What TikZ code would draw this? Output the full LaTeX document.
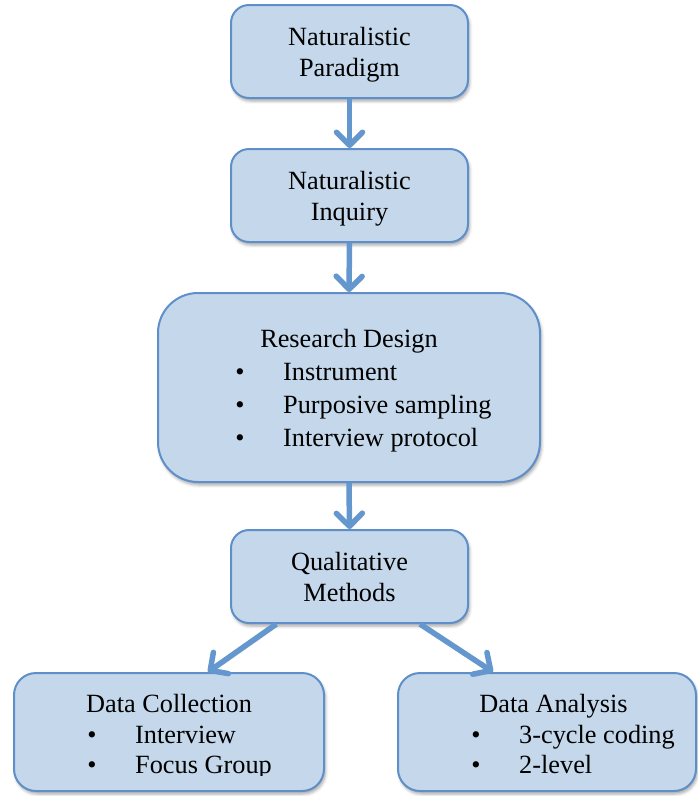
\documentclass[tikz,border=0pt]{standalone}
\usepackage{fontspec}
\setmainfont{Liberation Serif}
\usetikzlibrary{arrows.meta,shadows.blur}

\definecolor{boxfill}{RGB}{197,216,235}
\definecolor{boxline}{RGB}{94,143,200}
\definecolor{arrowblue}{RGB}{100,151,206}

\tikzset{
  stepbox/.style={
    rectangle, draw=boxline, fill=boxfill, line width=2pt,
    blur shadow={shadow xshift=1.5pt, shadow yshift=-3pt,
                 shadow blur radius=3pt, shadow opacity=35}
  },
  txt/.style={anchor=base, inner sep=0pt,
    font=\fontsize{26.3}{31}\selectfont},
  itemtxt/.style={txt, anchor=base west},
  flow/.style={draw=arrowblue, line width=5.5pt,
    -{Straight Barb[length=13pt, width=26pt, line cap=round, line join=round]},
    preaction={draw=black, draw opacity=0.12,
      transform canvas={shift={(1.5pt,-2.5pt)}}}}
}

\begin{document}
\begin{tikzpicture}[x=1pt, y=-1pt]
\useasboundingbox (0,0) rectangle (698,796);

% boxes
\node[stepbox, rounded corners=18pt, minimum width=237pt, minimum height=93pt]
  (para) at (349.5,51.5) {};
\node[stepbox, rounded corners=18pt, minimum width=237pt, minimum height=93pt]
  (inq) at (349.5,195.5) {};
\node[stepbox, rounded corners=40pt, minimum width=382pt, minimum height=189pt]
  (des) at (349,387.5) {};
\node[stepbox, rounded corners=18pt, minimum width=237pt, minimum height=93pt]
  (qual) at (349.5,576.5) {};
\node[stepbox, rounded corners=22pt, minimum width=310pt, minimum height=118pt]
  (coll) at (169,732) {};
\node[stepbox, rounded corners=22pt, minimum width=298pt, minimum height=118pt]
  (anal) at (547,732) {};

% box texts
\node[txt] (para1) at (349.5,45) {Naturalistic};
\node[txt] (para2) at (349.5,76) {Paradigm};
\node[txt] (inq1) at (349.5,189) {Naturalistic};
\node[txt] (inq2) at (349.5,220) {Inquiry};

\node[txt] (desh) at (349,347) {Research Design};
\node[txt] (desb1) at (240,380) {\textbullet};
\node[itemtxt] (desi1) at (283,380) {Instrument};
\node[txt] (desb2) at (240,413) {\textbullet};
\node[itemtxt] (desi2) at (283,413) {Purposive sampling};
\node[txt] (desb3) at (240,446) {\textbullet};
\node[itemtxt] (desi3) at (283,446) {Interview protocol};

\node[txt] (qual1) at (349.5,570) {Qualitative};
\node[txt] (qual2) at (349.5,601) {Methods};

\node[txt] (collh) at (169,712) {Data Collection};
\node[txt] (collb1) at (92,743) {\textbullet};
\node[itemtxt] (colli1) at (135,743) {Interview};
\node[txt] (analh) at (553.5,712) {Data Analysis};
\node[txt] (analb1) at (476,743) {\textbullet};
\node[itemtxt] (anali1) at (519,743) {3-cycle coding};

% last list lines are cut off at the bottom of the text frame
\begin{scope}
  \clip (0,0) rectangle (698,775.5);
  \node[txt] (collb2) at (92,773) {\textbullet};
  \node[itemtxt] (colli2) at (135,773) {Focus Group};
  \node[txt] (analb2) at (476,773) {\textbullet};
  \node[itemtxt] (anali2) at (519,773) {2-level};
\end{scope}

% connectors
\draw[flow] (para.south) -- (inq.north);
\draw[flow] (inq.south) -- (des.north);
\draw[flow] (des.south) -- (qual.north);
\draw[flow] (qual.213.2) -- (coll.57.6);
\draw[flow] (qual.326.8) -- (anal.132.5);
\end{tikzpicture}
\end{document}
